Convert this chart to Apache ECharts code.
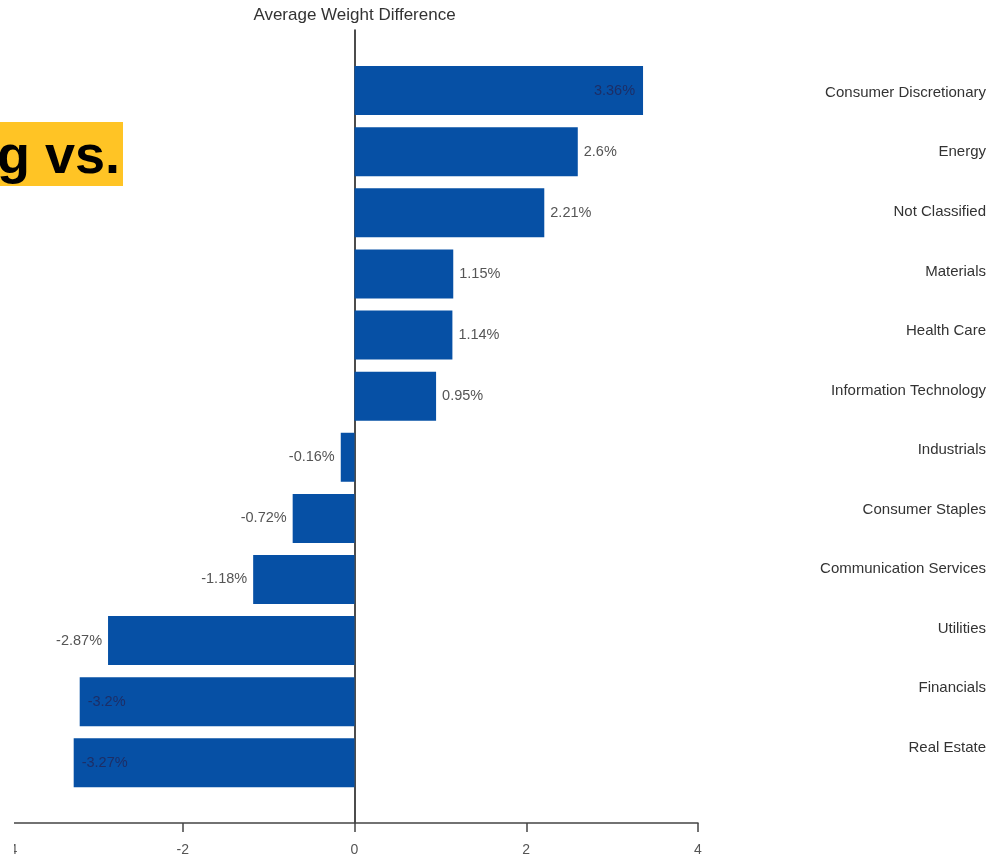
<!DOCTYPE html>
<html>
<head>
<meta charset="utf-8">
<script src="https://cdn.jsdelivr.net/npm/echarts@6/dist/echarts.min.js"></script>
<style>
  html, body { margin: 0; padding: 0; background: #ffffff; }
  #chart { width: 996px; height: 857px; }
</style>
</head>
<body>
<div id="chart"></div>
<script>
// Sector names, top to bottom
const sectors = [
  'Consumer Discretionary', 'Energy', 'Not Classified', 'Materials',
  'Health Care', 'Information Technology', 'Industrials', 'Consumer Staples',
  'Communication Services', 'Utilities', 'Financials', 'Real Estate'
];
// Average weight difference per sector, in percent
const weightDiff = [3.36, 2.6, 2.21, 1.15, 1.14, 0.95, -0.16, -0.72, -1.18, -2.87, -3.2, -3.27];
// Value axis range and step
const axisMin = -4;
const axisMax = 4;
const axisStep = 2;

const FONT = '"Liberation Sans", Arial, sans-serif';
const BAR_BLUE = '#0650a5';

// Long bars carry their value label inside; shorter ones outside the end
const barData = weightDiff.map(function (v) {
  const inside = Math.abs(v) > 3;
  return {
    value: v,
    label: {
      position: inside ? (v >= 0 ? 'insideRight' : 'insideLeft') : (v >= 0 ? 'right' : 'left'),
      color: inside ? '#1d2e66' : '#555555',
      distance: inside ? 8 : 6
    }
  };
});

const chart = echarts.init(document.getElementById('chart'), null, { renderer: 'canvas' });
chart.setOption({
  backgroundColor: '#ffffff',
  animation: false,
  textStyle: { fontFamily: FONT },
  title: {
    text: 'Average Weight Difference',
    left: 349.5,
    textAlign: 'center',
    top: 2,
    textStyle: { fontFamily: FONT, fontSize: 17, fontWeight: 'normal', color: '#333333' }
  },
  grid: [
    { left: 11, width: 687, top: 60, height: 733.4 },
    { left: 11, width: 687, top: 30, height: 793 },
    { left: 990, width: 1, top: 63, height: 714.6 }
  ],
  xAxis: [
    { gridIndex: 0, type: 'value', min: axisMin, max: axisMax, show: false },
    {
      gridIndex: 1, type: 'value', min: axisMin, max: axisMax, interval: axisStep,
      position: 'bottom',
      axisLine: { show: true, onZero: false, lineStyle: { color: '#444444', width: 1.5 } },
      axisTick: { show: true, length: 9, lineStyle: { color: '#444444', width: 1.5 } },
      splitLine: { show: false },
      axisLabel: { fontFamily: FONT, fontSize: 14, color: '#555555', margin: 20 }
    },
    { gridIndex: 2, type: 'value', min: 0, max: 1, show: false }
  ],
  yAxis: [
    { gridIndex: 0, type: 'category', data: sectors, inverse: true, show: false },
    {
      gridIndex: 1, type: 'value', min: 0, max: 1,
      axisLine: { show: true, onZero: true, lineStyle: { color: '#111111', width: 1.5 } },
      axisTick: { show: false },
      axisLabel: { show: false },
      splitLine: { show: false }
    },
    {
      gridIndex: 2, type: 'category', data: sectors, inverse: true,
      axisLine: { show: false },
      axisTick: { show: false },
      axisLabel: { fontFamily: FONT, fontSize: 15, color: '#333333', margin: 4 }
    }
  ],
  series: [
    {
      type: 'bar',
      xAxisIndex: 0,
      yAxisIndex: 0,
      data: barData,
      barWidth: 49,
      itemStyle: { color: BAR_BLUE },
      label: {
        show: true,
        fontFamily: FONT,
        fontSize: 14.5,
        formatter: function (p) { return p.value + '%'; }
      }
    }
  ],
  graphic: [
    // plain margin strip on the left edge
    { type: 'rect', left: 0, top: 0, shape: { width: 14, height: 857 }, style: { fill: '#ffffff' }, z: 100 },
    // highlighted heading fragment
    { type: 'rect', left: 0, top: 122, shape: { width: 123, height: 64 }, style: { fill: '#ffc425' }, z: 101 },
    {
      type: 'text', z: 102,
      style: {
        text: 'g vs.',
        x: 120, y: 158,
        textAlign: 'right', textVerticalAlign: 'middle',
        font: 'bold 54px ' + FONT,
        fill: '#000000'
      }
    }
  ]
});
</script>
</body>
</html>
